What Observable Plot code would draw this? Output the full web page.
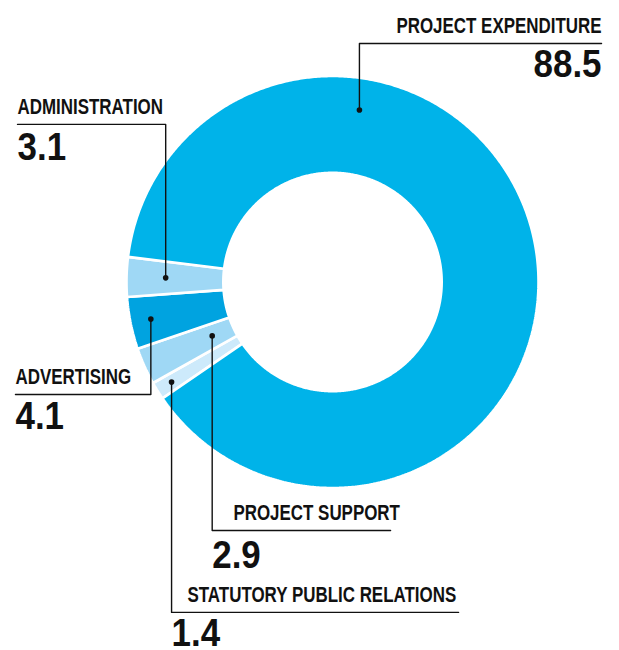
<!DOCTYPE html>
<html>
<head>
<meta charset="utf-8">
<script src="https://cdn.jsdelivr.net/npm/d3@7"></script>
<script src="https://cdn.jsdelivr.net/npm/@observablehq/plot@0.6"></script>
<style>
  html, body { margin: 0; padding: 0; background: #fff; }
  #chart svg { display: block; }
</style>
</head>
<body>
<div id="chart"></div>
<script>
// ---- data (clockwise order of the slices) ----
const categories = ["STATUTORY PUBLIC RELATIONS", "PROJECT SUPPORT", "ADVERTISING", "ADMINISTRATION", "PROJECT EXPENDITURE"];
const values = [1.4, 2.9, 4.1, 3.1, 88.5];
const valueLabels = ["1.4", "2.9", "4.1", "3.1", "88.5"];

// ---- styles ----
const colors = ["#cdeafb", "#9fd8f5", "#00a3e0", "#9fd8f5", "#00b3e9"];
const startAngleDeg = 235.6;   // compass angle where the first slice starts
const innerR = 0.53, outerR = 1;
const titleSqueeze = 0.77, numberSqueeze = 0.92;

// ---- label layout (data units; radius of the ring = 1) ----
const labelLayout = [
  {name: "PROJECT EXPENDITURE",        r: 0.845, angle: 8.9, lineY: 1.158,  lineX2: 1.306,  side: "right", numDrop: 0.162},
  {name: "ADMINISTRATION",             r: 0.81,  lineY: 0.765,  lineX2: -1.529, side: "left",  numDrop: 0.175},
  {name: "ADVERTISING",                r: 0.90,  lineY: -0.546, lineX2: -1.539, side: "left",  numDrop: 0.170},
  {name: "PROJECT SUPPORT",            r: 0.64,  lineY: -1.206, lineX2: 0.282,  side: "under", titleX: -0.481, numDrop: 0.184},
  {name: "STATUTORY PUBLIC RELATIONS", r: 0.92,  lineY: -1.604, lineX2: 0.612,  side: "under", titleX: -0.704, numDrop: 0.165}
];

const rad = (deg) => deg * Math.PI / 180;
const total = d3.sum(values);
let acc = startAngleDeg;
const slices = categories.map((name, i) => {
  const a0 = acc, a1 = acc + values[i] / total * 360;
  acc = a1;
  return {name, a0, a1, value: values[i], label: valueLabels[i], color: colors[i]};
});

// slice polygons
const slicePoints = slices.flatMap((s) => {
  const n = Math.max(2, Math.ceil((s.a1 - s.a0) / 0.5));
  const angles = d3.range(n + 1).map((k) => s.a0 + (s.a1 - s.a0) * k / n);
  const pts = [];
  for (const a of angles) pts.push({name: s.name, color: s.color, x: outerR * Math.sin(rad(a)), y: outerR * Math.cos(rad(a))});
  for (const a of angles.slice().reverse()) pts.push({name: s.name, color: s.color, x: innerR * Math.sin(rad(a)), y: innerR * Math.cos(rad(a))});
  return pts;
});

// labels
const labels = labelLayout.map((L) => {
  const s = slices.find((d) => d.name === L.name);
  const a = L.angle ?? (s.a0 + s.a1) / 2;
  const dotX = L.r * Math.sin(rad(a)), dotY = L.r * Math.cos(rad(a));
  const titleX = L.side === "under" ? L.titleX : L.lineX2;
  const numX = L.side === "under" ? dotX : L.lineX2;
  const numY = L.lineY - L.numDrop;
  return {...L, label: s.label, dotX, dotY, titleX, numX, numY};
});
const leaderPoints = labels.flatMap((l) => [
  {name: l.name, x: l.dotX, y: l.dotY},
  {name: l.name, x: l.dotX, y: l.lineY},
  {name: l.name, x: l.lineX2, y: l.lineY}
]);

const font = "'Liberation Sans Narrow', 'Liberation Sans', Arial, sans-serif";
const right = labels.filter((l) => l.side === "right");
const notRight = labels.filter((l) => l.side !== "right");

const svg = Plot.plot({
  width: 619,
  height: 650,
  marginLeft: 126,
  marginRight: 81,
  marginTop: 75.5,
  marginBottom: 162.5,
  x: {domain: [-1, 1], axis: null},
  y: {domain: [-1, 1], axis: null},
  color: {type: "identity"},
  marks: [
    Plot.line(slicePoints, {x: "x", y: "y", z: "name", fill: "color", stroke: "white", strokeWidth: 2.6, strokeLinejoin: "miter", curve: "linear-closed"}),
    Plot.line(leaderPoints, {x: "x", y: "y", z: "name", stroke: "#111", strokeWidth: 1.4}),
    Plot.dot(labels, {x: "dotX", y: "dotY", r: 2.8, fill: "#111", stroke: null}),
    Plot.text(right, {x: "titleX", y: "lineY", text: "name", textAnchor: "end", lineAnchor: "bottom", dy: -10, fontSize: 22, fontWeight: "bold", fontFamily: font, fill: "#111"}),
    Plot.text(notRight, {x: "titleX", y: "lineY", text: "name", textAnchor: "start", lineAnchor: "bottom", dy: -10, fontSize: 22, fontWeight: "bold", fontFamily: font, fill: "#111"}),
    Plot.text(right, {x: "numX", y: "numY", text: "label", textAnchor: "end", lineAnchor: "bottom", fontSize: 38, fontWeight: "bold", fontFamily: font, fill: "#111"}),
    Plot.text(notRight, {x: "numX", y: "numY", text: "label", textAnchor: "start", lineAnchor: "bottom", fontSize: 38, fontWeight: "bold", fontFamily: font, fill: "#111"})
  ]
});

// condense the texts horizontally (the original uses a compressed typeface)
function squeeze(size, k) {
  d3.select(svg).selectAll('g[aria-label="text"]')
    .filter(function () { return this.getAttribute("font-size") === String(size); })
    .selectAll("text").each(function () {
      const t = d3.select(this);
      const tr = t.attr("transform");
      if (tr) t.attr("transform", tr + ` scale(${k},1)`);
      else {
        const x = +t.attr("x") || 0, y = +t.attr("y") || 0;
        t.attr("x", null).attr("y", null).attr("transform", `translate(${x},${y}) scale(${k},1)`);
      }
    });
}
squeeze(22, titleSqueeze);
squeeze(38, numberSqueeze);

document.getElementById("chart").appendChild(svg);
</script>
</body>
</html>
